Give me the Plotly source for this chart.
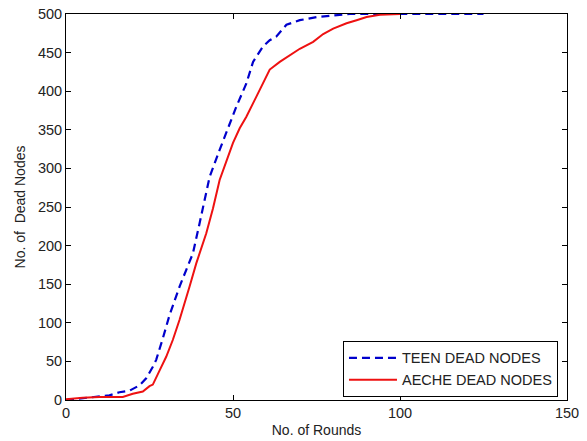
import plotly.graph_objects as go

# TEEN dead nodes (blue dashed)
teen_rounds = [0, 5, 10, 13, 16, 19, 22, 24, 26, 27, 29, 31, 34, 36, 38, 40, 43, 46, 49, 51, 54, 56, 59, 61, 63, 66, 70, 75, 80, 85, 100, 125]
teen_dead = [0, 2, 4, 6, 10, 12, 19, 28, 43, 52, 80, 110, 147, 168, 190, 229, 289, 324, 359, 380, 410, 438, 458, 466, 471, 486, 492, 496, 498, 500, 500, 500]

# AECHE dead nodes (red solid)
aeche_rounds = [0, 5, 10, 15, 17, 20, 23, 25, 26, 28, 30, 32, 34, 37, 39, 42, 44, 46, 48, 50, 52, 54, 57, 60, 61, 64, 67, 70, 74, 77, 80, 84, 87, 90, 94, 100]
aeche_dead = [1, 3, 4, 4, 4, 8, 11, 18, 20, 38, 56, 78, 104, 147, 177, 216, 248, 285, 310, 333, 352, 367, 393, 419, 428, 438, 446, 455, 464, 474, 481, 488, 492, 496, 499, 500]

x_ticks = [0, 50, 100, 150]
y_ticks = [0, 50, 100, 150, 200, 250, 300, 350, 400, 450, 500]

FONT = "Liberation Sans, Arial, sans-serif"

fig = go.Figure()
fig.add_trace(go.Scatter(
    x=teen_rounds, y=teen_dead, mode="lines", name="TEEN DEAD NODES",
    line=dict(color="#0000cc", width=2.2, dash="8px,5px"),
))
fig.add_trace(go.Scatter(
    x=aeche_rounds, y=aeche_dead, mode="lines", name="AECHE DEAD NODES",
    line=dict(color="#ee1111", width=2),
))

axis_common = dict(
    showgrid=False, zeroline=False, showline=True, linecolor="black", linewidth=1,
    mirror="ticks", ticks="inside", ticklen=5, tickcolor="black", tickwidth=1,
    tickfont=dict(family=FONT, size=14.5, color="#222222"), automargin=False,
    ticklabeloverflow="allow",
)

# page body has an 8px default margin, so the figure is sized/offset to fit the window
fig.update_layout(
    width=579, height=433,
    margin=dict(l=58, r=20, t=6, b=41),
    paper_bgcolor="white", plot_bgcolor="white",
    font=dict(family=FONT, size=14, color="#222222"),
    xaxis=dict(range=[0, 150], tickvals=x_ticks,
               title=dict(text="No. of Rounds", font=dict(family=FONT, size=14), standoff=4),
               **axis_common),
    yaxis=dict(range=[0, 500], tickvals=y_ticks,
               title=dict(text="No. of  Dead Nodes", font=dict(family=FONT, size=14), standoff=8),
               **axis_common),
    legend=dict(
        x=0.982, y=0.008, xanchor="right", yanchor="bottom",
        bgcolor="white", bordercolor="black", borderwidth=1,
        font=dict(family=FONT, size=14.5, color="#222222"),
        tracegroupgap=0, itemwidth=48,
    ),
    showlegend=True,
)

fig.write_html("out.html")
